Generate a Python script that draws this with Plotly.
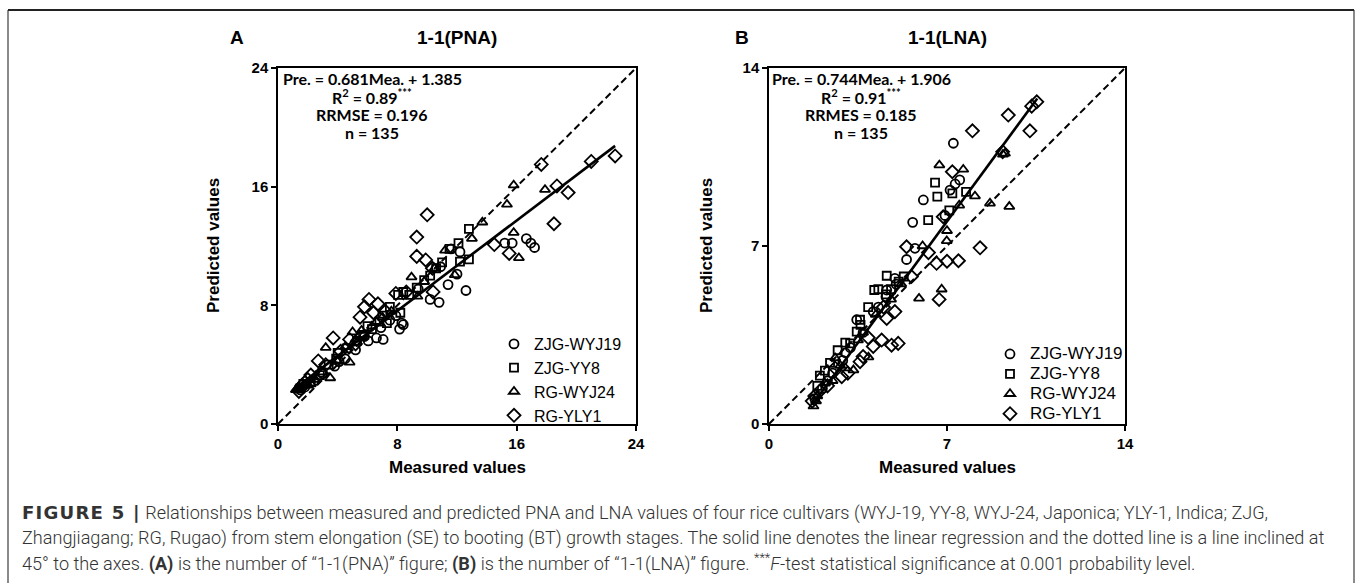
import plotly.graph_objects as go

# ---------------- Panel A : PNA ----------------
a_wyj19_x = [15.2, 15.7, 16.65, 16.95, 17.2, 12.2, 12.0, 11.4, 12.6, 10.2, 10.8, 8.4, 8.15, 7.05, 6.05, 6.6,
             8.3, 7.5, 5.2, 4.5, 3.8, 3.0, 2.4, 1.8, 1.5, 6.9, 9.4, 5.8, 4.1, 2.9, 7.9, 10.9, 11.6]
a_wyj19_y = [12.2, 12.2, 12.5, 12.2, 11.9, 11.6, 10.1, 9.4, 9.0, 8.4, 8.2, 6.7, 6.4, 5.7, 5.6, 5.8,
             6.8, 7.0, 5.0, 4.4, 3.9, 3.4, 2.9, 2.5, 2.3, 6.5, 9.1, 5.9, 4.2, 3.5, 7.3, 10.6, 11.8]

a_yy8_x = [12.8, 12.1, 11.5, 12.8, 12.2, 10.6, 8.05, 8.4, 7.5, 8.2, 7.3, 5.3, 4.0, 1.7, 6.3, 6.8, 5.7,
           4.6, 3.4, 2.8, 2.2, 1.5, 9.3, 10.2, 7.0, 3.9, 6.0, 8.8, 11.0, 9.8]
a_yy8_y = [13.15, 12.2, 11.8, 11.1, 10.95, 10.5, 8.7, 8.9, 7.9, 7.5, 6.8, 5.6, 4.8, 2.7, 6.4, 6.9, 6.0,
           5.1, 4.0, 3.3, 2.8, 2.4, 9.2, 10.0, 7.3, 4.4, 6.6, 8.7, 10.9, 9.7]

a_wyj24_x = [15.8, 17.9, 15.35, 13.7, 15.8, 16.15, 13.0, 11.2, 11.85, 8.95, 9.35, 3.2, 3.5, 4.8, 1.2, 5.0,
             4.5, 1.4, 1.6, 2.0, 2.5, 3.0, 5.6, 6.3, 7.0, 7.6, 9.8, 10.5, 6.6, 4.0, 2.2, 1.3, 5.2]
a_wyj24_y = [16.1, 15.8, 14.8, 13.6, 12.9, 11.2, 12.5, 11.7, 10.05, 9.9, 8.6, 5.15, 3.1, 4.16, 2.3, 6.2,
             5.2, 2.3, 2.5, 2.6, 3.0, 3.5, 6.3, 6.6, 7.2, 7.6, 9.6, 10.5, 6.9, 4.2, 2.7, 2.4, 5.7]

a_yly1_x = [17.65, 18.7, 19.45, 18.5, 10.0, 9.3, 9.3, 9.9, 10.35, 10.4, 14.5, 15.5, 3.7, 2.7, 5.5, 6.1,
            5.8, 6.7, 7.9, 21.0, 22.6, 1.4, 1.8, 2.2, 3.2, 4.2, 4.8, 6.4, 7.2, 8.6, 1.6, 5.2, 2.0]
a_yly1_y = [17.5, 16.05, 15.6, 13.5, 14.1, 12.6, 11.3, 11.06, 10.5, 8.9, 12.1, 11.5, 5.8, 4.25, 7.2, 8.4,
            7.9, 8.1, 8.8, 17.7, 18.07, 2.2, 2.8, 3.3, 4.0, 4.9, 5.7, 7.5, 7.6, 8.9, 2.6, 5.4, 3.0]

a_fit_x = [1.2, 22.6]
a_fit_y = [2.45, 18.75]
a_one_x = [0, 24]
a_one_y = [0, 24]
a_ticks = [0, 8, 16, 24]

# ---------------- Panel B : LNA ----------------
b_wyj19_x = [7.25, 7.32, 7.12, 6.07, 5.65, 6.92, 5.74, 5.41, 4.95, 4.63, 4.1, 3.45, 1.8, 2.1, 2.5, 2.9,
             3.2, 3.7, 4.3, 5.0, 2.3, 3.0, 4.6, 7.5]
b_wyj19_y = [11.04, 9.44, 9.2, 8.81, 7.93, 8.2, 6.91, 6.47, 5.73, 5.27, 4.42, 4.1, 1.0, 1.4, 2.0, 2.5,
             3.0, 3.6, 4.6, 5.5, 1.7, 2.8, 5.0, 9.6]

b_yy8_x = [6.53, 6.62, 6.26, 7.21, 7.75, 7.09, 4.63, 4.14, 3.58, 3.45, 3.19, 4.3, 3.9, 2.7, 2.4, 2.0,
           3.0, 3.6, 5.1, 4.8, 2.2, 1.9, 4.6, 5.3]
b_yy8_y = [9.49, 8.94, 8.02, 9.07, 9.13, 8.4, 5.83, 5.27, 4.1, 3.63, 3.17, 5.3, 4.6, 2.9, 2.4, 1.9,
           3.2, 3.9, 5.6, 5.3, 2.1, 1.5, 5.1, 5.8]

b_wyj24_x = [6.7, 7.64, 9.28, 8.1, 8.69, 9.45, 7.48, 6.99, 6.04, 6.79, 5.9, 3.91, 3.32, 3.0, 1.75, 1.9,
             2.2, 2.5, 2.8, 3.5, 4.2, 4.8, 7.0, 9.2, 2.6, 3.7, 5.2, 1.85]
b_wyj24_y = [10.18, 10.01, 10.64, 8.96, 8.68, 8.55, 8.6, 7.2, 7.0, 5.3, 4.94, 2.63, 2.12, 2.2, 0.7, 1.1,
             1.6, 1.7, 2.3, 3.3, 4.3, 4.9, 7.6, 10.6, 2.6, 3.6, 5.5, 0.9]

b_yly1_x = [10.53, 10.33, 9.41, 10.26, 8.0, 9.19, 7.21, 6.85, 5.41, 6.27, 6.59, 7.0, 7.45, 8.3, 6.69,
            4.95, 4.63, 5.08, 4.82, 4.43, 4.1, 3.7, 3.58, 2.86, 1.7, 2.0, 2.3, 2.6, 3.1, 3.9, 5.6, 4.5, 1.8]
b_yly1_y = [12.67, 12.5, 12.15, 11.53, 11.53, 10.71, 9.92, 8.15, 6.97, 6.74, 6.32, 6.4, 6.42, 6.93, 4.9,
            4.42, 4.15, 3.17, 3.1, 3.3, 3.05, 2.65, 2.45, 1.86, 0.9, 1.3, 1.5, 2.2, 2.0, 3.4, 5.8, 4.6, 1.1]

b_fit_x = [1.7, 10.55]
b_fit_y = [0.75, 12.8]
b_one_x = [0, 14]
b_one_y = [0, 14]
b_ticks = [0, 7, 14]

series_names = ["ZJG-WYJ19", "ZJG-YY8", "RG-WYJ24", "RG-YLY1"]
symbols = ["circle-open", "square-open", "triangle-up-open", "diamond-open"]
sizes = [9, 8, 9, 10]

W, H = 1357, 583


def px(xp):
    return xp / W


def py(yp):
    return (H - yp) / H


fig = go.Figure()

panels = [
    ("x", "y", "legend", 16, [(a_wyj19_x, a_wyj19_y), (a_yy8_x, a_yy8_y), (a_wyj24_x, a_wyj24_y), (a_yly1_x, a_yly1_y)],
     a_fit_x, a_fit_y, a_one_x, a_one_y),
    ("x2", "y2", "legend2", 17, [(b_wyj19_x, b_wyj19_y), (b_yy8_x, b_yy8_y), (b_wyj24_x, b_wyj24_y), (b_yly1_x, b_yly1_y)],
     b_fit_x, b_fit_y, b_one_x, b_one_y),
]

for xa, ya, leg, lfs, data, fx, fy, ox, oy in panels:
    fig.add_trace(go.Scatter(x=ox, y=oy, mode="lines", xaxis=xa, yaxis=ya, showlegend=False,
                             line=dict(color="black", width=2, dash="7px,4px"), hoverinfo="skip"))
    fig.add_trace(go.Scatter(x=fx, y=fy, mode="lines", xaxis=xa, yaxis=ya, showlegend=False,
                             line=dict(color="black", width=2.6), hoverinfo="skip"))
    for (sx, sy), name, sym, sz in zip(data, series_names, symbols, sizes):
        fig.add_trace(go.Scatter(x=sx, y=sy, mode="markers",
                                 name=f"<span style='font-size:{lfs}px'>{name}</span>",
                                 xaxis=xa, yaxis=ya, legend=leg,
                                 marker=dict(symbol=sym, size=sz, color="black",
                                             line=dict(color="black", width=1.8))))

tickfont = dict(family="Liberation Sans, Arial", size=15, color="black", weight="bold")
axis_common = dict(showline=True, linecolor="black", linewidth=1.5, mirror=True, ticks="outside",
                   ticklen=5, tickwidth=1.5, tickcolor="black", showgrid=False, zeroline=False,
                   tickfont=tickfont)

yd = [py(424), py(68)]
fig.update_layout(
    width=W, height=H, margin=dict(l=0, r=0, t=0, b=0, autoexpand=False),
    paper_bgcolor="white", plot_bgcolor="white",
    xaxis=dict(domain=[px(278), px(636)], range=[0, 24], tickvals=a_ticks, anchor="y", **axis_common),
    yaxis=dict(domain=yd, range=[0, 24], tickvals=a_ticks, anchor="x", **axis_common),
    xaxis2=dict(domain=[px(769), px(1125)], range=[0, 14], tickvals=b_ticks, anchor="y2", **axis_common),
    yaxis2=dict(domain=yd, range=[0, 14], tickvals=b_ticks, anchor="x2", **axis_common),
    legend=dict(x=px(494), y=py(327), xanchor="left", yanchor="top", bgcolor="rgba(0,0,0,0)",
                font=dict(family="Liberation Sans, Arial", size=16, color="black"), itemwidth=30),
    legend2=dict(x=px(990), y=py(339), xanchor="left", yanchor="top", bgcolor="rgba(0,0,0,0)",
                 font=dict(family="Liberation Sans, Arial", size=13, color="black"), itemwidth=30),
    showlegend=True,
)

ann = []
bold_cal = dict(family="Lato, Open Sans", size=16, color="black", weight="bold")
for cx, lines in [(372, ["Pre. = 0.681Mea. + 1.385", "R<sup>2</sup> = 0.89<sup>***</sup>", "RRMSE = 0.196", "n = 135"]),
                  (861, ["Pre. = 0.744Mea. + 1.906", "R<sup>2</sup> = 0.91<sup>***</sup>", "RRMES = 0.185", "n = 135"])]:
    for i, t in enumerate(lines):
        ann.append(dict(x=px(cx), y=py(78 + 18.3 * i), text=t, font=bold_cal))

title_font = dict(family="Liberation Sans, Arial", size=19, color="black", weight="bold")
ann += [
    dict(x=px(237), y=py(37), text="A", font=title_font),
    dict(x=px(457), y=py(37), text="1-1(PNA)", font=title_font),
    dict(x=px(742), y=py(37), text="B", font=title_font),
    dict(x=px(947), y=py(37), text="1-1(LNA)", font=title_font),
]
axt_font = dict(family="Liberation Sans, Arial", size=17, color="black", weight="bold")
ann += [
    dict(x=px(457), y=py(467), text="Measured values", font=axt_font),
    dict(x=px(947), y=py(467), text="Measured values", font=axt_font),
    dict(x=px(213), y=py(246), text="Predicted values", font=axt_font, textangle=-90),
    dict(x=px(706), y=py(246), text="Predicted values", font=axt_font, textangle=-90),
]
cap_font = dict(family="Roboto, Liberation Sans", size=18.1, color="#333333", weight=300)
fig5 = "<span style='font-family:DejaVu Sans;font-weight:bold;letter-spacing:1.2px'>FIGURE 5 |</span>"
caption = [
    fig5 + " Relationships between measured and predicted PNA and LNA values of four rice cultivars (WYJ-19, YY-8, WYJ-24, Japonica; YLY-1, Indica; ZJG,",
    "Zhangjiagang; RG, Rugao) from stem elongation (SE) to booting (BT) growth stages. The solid line denotes the linear regression and the dotted line is a line inclined at",
    "45° to the axes. <b>(A)</b> is the number of “1-1(PNA)” figure; <b>(B)</b> is the number of “1-1(LNA)” figure. <sup>***</sup><i>F</i>-test statistical significance at 0.001 probability level.",
]
for i, t in enumerate(caption):
    ann.append(dict(x=px(20), y=py(513 + 24.5 * i), text=t, font=cap_font, xanchor="left"))

for a in ann:
    a.setdefault("xref", "paper")
    a.setdefault("yref", "paper")
    a.setdefault("showarrow", False)
    a.setdefault("xanchor", "center")
    a.setdefault("yanchor", "middle")
fig.update_layout(annotations=ann)

# outer frame
fig.add_shape(type="line", xref="paper", yref="paper", x0=px(8), x1=px(8), y0=py(600), y1=py(10),
              line=dict(color="#8a8a8a", width=2))
fig.add_shape(type="line", xref="paper", yref="paper", x0=px(1354), x1=px(1354), y0=py(600), y1=py(10),
              line=dict(color="#8a8a8a", width=2))
fig.add_shape(type="line", xref="paper", yref="paper", x0=px(8), x1=px(1354), y0=py(10), y1=py(10),
              line=dict(color="#222222", width=2))

fig.write_html(
    "out.html",
    config={"responsive": False, "displayModeBar": False},
    post_script="document.documentElement.style.margin='0';document.body.style.margin='0';"
                "document.body.style.padding='0';document.body.style.overflow='hidden';",
)
